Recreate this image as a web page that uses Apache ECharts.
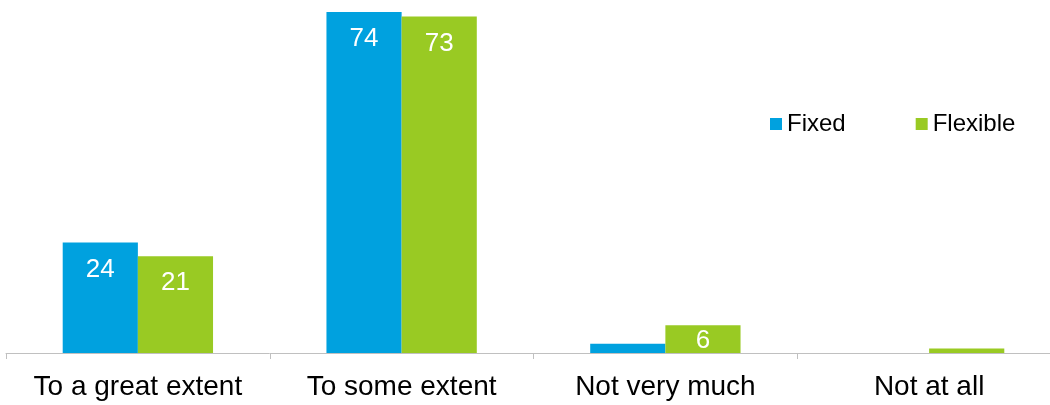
<!DOCTYPE html>
<html><head><meta charset="utf-8">
<script src="https://cdn.jsdelivr.net/npm/echarts@6/dist/echarts.min.js"></script>
<style>html,body{margin:0;padding:0;background:#fff;overflow:hidden}#c{width:1062px;height:405px}</style>
</head><body><div id="c"></div>
<script>
const categories = ['To a great extent', 'To some extent', 'Not very much', 'Not at all'];
const fixedValues = [24, 74, 2, 0];
const flexibleValues = [21, 73, 6, 1];
const seriesNames = ['Fixed', 'Flexible'];

const chart = echarts.init(document.getElementById('c'), null, {renderer: 'canvas'});
const lbl = {
  show: true, position: 'insideTop', distance: 14, color: '#fff',
  fontFamily: 'Liberation Sans', fontSize: 26,
  formatter: p => p.value >= 5 ? String(p.value) : ''
};
const toData = vals => vals.map(v => v < 10 ? {value: v, label: {position: 'inside', offset: [0, 2]}} : v);
chart.setOption({
  animation: false,
  textStyle: {fontFamily: 'Liberation Sans'},
  legend: {
    left: 765, top: 107, itemWidth: 12, itemHeight: 12, itemGap: 70,
    icon: 'rect',
    textStyle: {fontSize: 24, color: '#000', fontFamily: 'Liberation Sans'},
    data: seriesNames
  },
  grid: {left: 6, right: 1, top: 12, bottom: 52, containLabel: false},
  xAxis: {
    type: 'category', data: categories,
    axisLine: {lineStyle: {color: '#c0c0c0', width: 1}},
    axisTick: {show: true, length: 6, interval: 0, lineStyle: {color: '#c0c0c0'}},
    axisLabel: {color: '#000', fontSize: 28, margin: 20, interval: 0, fontFamily: 'Liberation Sans'}
  },
  yAxis: {type: 'value', min: 0, max: 74, show: false, splitLine: {show: false}},
  series: [
    {name: seriesNames[0], type: 'bar', data: toData(fixedValues), itemStyle: {color: '#00A1DF'},
     barGap: '0%', barCategoryGap: '43%', label: lbl},
    {name: seriesNames[1], type: 'bar', data: toData(flexibleValues), itemStyle: {color: '#99CA23'},
     barGap: '0%', barCategoryGap: '43%', label: lbl}
  ]
});
</script></body></html>
